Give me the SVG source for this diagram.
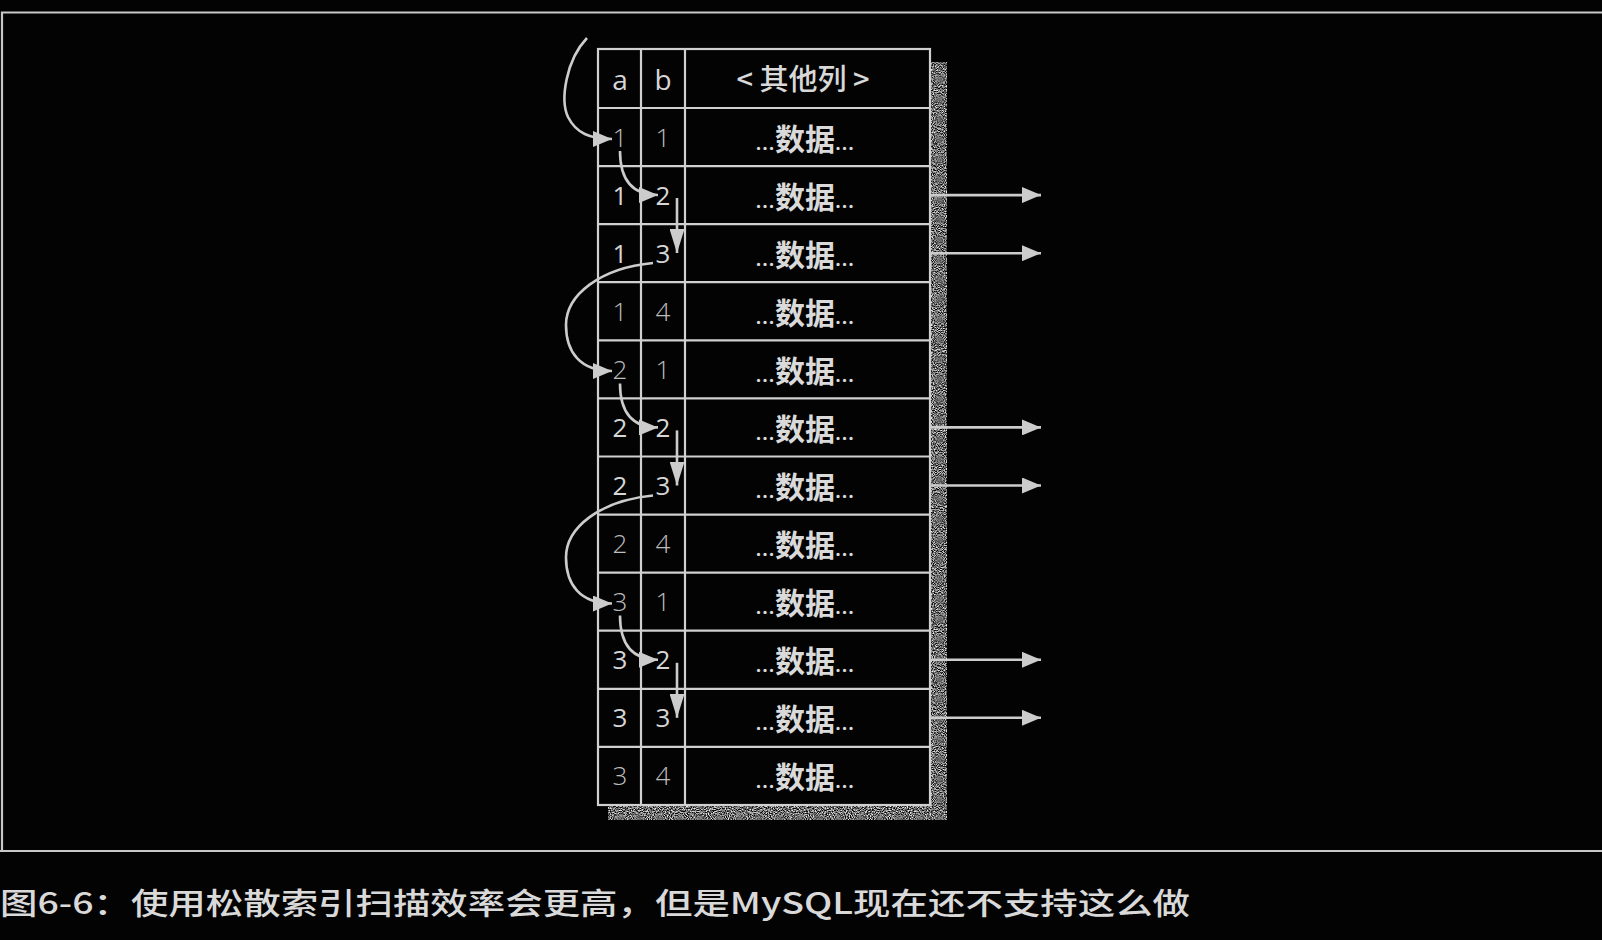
<svg xmlns="http://www.w3.org/2000/svg" width="1602" height="940" viewBox="0 0 1602 940">
<style>
.frame{stroke:#c8c8c8;stroke-width:2.2;fill:none}
.grid{stroke:#d0d0d0;stroke-width:2.2;fill:none}
.hd{font-family:"Open Sans","Noto Sans CJK SC",sans-serif;font-size:28px;fill:#d6d6d6;text-anchor:middle}
.hc{font-family:"Noto Sans CJK SC",sans-serif;font-size:29px;font-weight:500;fill:#d8d8d8;text-anchor:middle}
.dg{font-family:"Open Sans","Noto Sans CJK SC",sans-serif;font-size:26px;fill:#d6d6d6;text-anchor:middle}
.dl{font-weight:300;fill:#bdbdbd}
.dt{font-family:"Open Sans","Noto Sans CJK SC",sans-serif;fill:#dadada;text-anchor:middle}
.dots{font-size:22px;font-weight:600;letter-spacing:0.5px}
.cj{font-family:"Noto Sans CJK SC",sans-serif;font-size:30px;font-weight:700}
.cap{font-family:"Noto Sans CJK SC",sans-serif;font-size:30px;font-weight:500;fill:#d9d9d9}
.arr{stroke:#cccccc;stroke-width:2.6;fill:none}
</style>
<defs>
<marker id="ah" markerUnits="userSpaceOnUse" markerWidth="19" markerHeight="16" refX="19" refY="8" orient="auto"><path d="M0,0 L19,8 L0,16 z" fill="#cccccc"/></marker>
<marker id="ahd" markerUnits="userSpaceOnUse" markerWidth="24" markerHeight="15" refX="24" refY="7.5" orient="auto"><path d="M0,0 L24,7.5 L0,15 z" fill="#cccccc"/></marker>
<filter id="noise" x="0" y="0" width="100%" height="100%">
<feTurbulence type="fractalNoise" baseFrequency="0.95" numOctaves="1" seed="7" result="t"/>
<feColorMatrix in="t" type="matrix" values="0 0 0 0 0.82  0 0 0 0 0.82  0 0 0 0 0.82  2.6 0 0 0 -0.85"/>
<feComposite in2="SourceGraphic" operator="in"/>
</filter>
</defs>
<rect x="0" y="0" width="1602" height="940" fill="#030303"/>
<g id="frame">
<path class="frame" d="M2,852 L2,12.5 L1602,12.5"/>
<path class="frame" d="M0,851 L1602,851"/>
</g>
<g id="shadow" filter="url(#noise)">
<rect x="930" y="62" width="17" height="757" fill="#fff"/>
<rect x="608" y="805" width="339" height="15" fill="#fff"/>
</g>
<g id="table">
<rect class="grid" x="598" y="49" width="332" height="756" fill="#030303"/>
<path class="grid" d="M641,49 V805 M685,49 V805 M598,108 H930 M598,166.1 H930 M598,224.2 H930 M598,282.2 H930 M598,340.3 H930 M598,398.4 H930 M598,456.5 H930 M598,514.6 H930 M598,572.6 H930 M598,630.7 H930 M598,688.8 H930 M598,746.9 H930"/>
</g>
<g id="header">
<text class="hd" x="620" y="90">a</text>
<text class="hd" x="663" y="90">b</text>
<text class="hc" x="803" y="90">&lt; 其他列 &gt;</text>
</g>
<g id="row-1"><text class="dg dl" x="620" y="146.5">1</text><text class="dg dl" x="663" y="146.5">1</text><text class="dt" x="805" y="149.5"><tspan class="dots">...</tspan><tspan class="cj">数据</tspan><tspan class="dots">...</tspan></text></g>
<g id="row-2"><text class="dg" x="620" y="204.6">1</text><text class="dg" x="663" y="204.6">2</text><text class="dt" x="805" y="207.6"><tspan class="dots">...</tspan><tspan class="cj">数据</tspan><tspan class="dots">...</tspan></text></g>
<g id="row-3"><text class="dg" x="620" y="262.7">1</text><text class="dg" x="663" y="262.7">3</text><text class="dt" x="805" y="265.7"><tspan class="dots">...</tspan><tspan class="cj">数据</tspan><tspan class="dots">...</tspan></text></g>
<g id="row-4"><text class="dg dl" x="620" y="320.8">1</text><text class="dg dl" x="663" y="320.8">4</text><text class="dt" x="805" y="323.8"><tspan class="dots">...</tspan><tspan class="cj">数据</tspan><tspan class="dots">...</tspan></text></g>
<g id="row-5"><text class="dg dl" x="620" y="378.9">2</text><text class="dg dl" x="663" y="378.9">1</text><text class="dt" x="805" y="381.9"><tspan class="dots">...</tspan><tspan class="cj">数据</tspan><tspan class="dots">...</tspan></text></g>
<g id="row-6"><text class="dg" x="620" y="436.9">2</text><text class="dg" x="663" y="436.9">2</text><text class="dt" x="805" y="439.9"><tspan class="dots">...</tspan><tspan class="cj">数据</tspan><tspan class="dots">...</tspan></text></g>
<g id="row-7"><text class="dg" x="620" y="495">2</text><text class="dg" x="663" y="495">3</text><text class="dt" x="805" y="498"><tspan class="dots">...</tspan><tspan class="cj">数据</tspan><tspan class="dots">...</tspan></text></g>
<g id="row-8"><text class="dg dl" x="620" y="553.1">2</text><text class="dg dl" x="663" y="553.1">4</text><text class="dt" x="805" y="556.1"><tspan class="dots">...</tspan><tspan class="cj">数据</tspan><tspan class="dots">...</tspan></text></g>
<g id="row-9"><text class="dg dl" x="620" y="611.2">3</text><text class="dg dl" x="663" y="611.2">1</text><text class="dt" x="805" y="614.2"><tspan class="dots">...</tspan><tspan class="cj">数据</tspan><tspan class="dots">...</tspan></text></g>
<g id="row-10"><text class="dg" x="620" y="669.3">3</text><text class="dg" x="663" y="669.3">2</text><text class="dt" x="805" y="672.3"><tspan class="dots">...</tspan><tspan class="cj">数据</tspan><tspan class="dots">...</tspan></text></g>
<g id="row-11"><text class="dg" x="620" y="727.3">3</text><text class="dg" x="663" y="727.3">3</text><text class="dt" x="805" y="730.3"><tspan class="dots">...</tspan><tspan class="cj">数据</tspan><tspan class="dots">...</tspan></text></g>
<g id="row-12"><text class="dg dl" x="620" y="785.4">3</text><text class="dg dl" x="663" y="785.4">4</text><text class="dt" x="805" y="788.4"><tspan class="dots">...</tspan><tspan class="cj">数据</tspan><tspan class="dots">...</tspan></text></g>
<g id="connectors">
<path class="arr" marker-end="url(#ah)" d="M587,38 C566,60 560,100 568,117 C576,133 590,139 612,139"/>
<path class="arr" marker-end="url(#ah)" d="M620,151 C620,177 630,195 658,195"/>
<path class="arr" marker-end="url(#ahd)" d="M677,198 L677,253"/>
<path class="arr" marker-end="url(#ah)" d="M653,263 C600,268 566,295 566,325 C566,352 580,371 612,371"/>
<path class="arr" marker-end="url(#ah)" d="M620,383.4 C620,409.4 630,427.4 658,427.4"/>
<path class="arr" marker-end="url(#ahd)" d="M677,430.4 L677,485.5"/>
<path class="arr" marker-end="url(#ah)" d="M653,495.5 C600,500.5 566,527.5 566,557.5 C566,584.5 580,603.5 612,603.5"/>
<path class="arr" marker-end="url(#ah)" d="M620,615.6 C620,641.6 630,659.8 658,659.8"/>
<path class="arr" marker-end="url(#ahd)" d="M677,662.8 L677,717.8"/>
<path class="arr" marker-end="url(#ah)" d="M930,195.1 H1041"/>
<path class="arr" marker-end="url(#ah)" d="M930,253.2 H1041"/>
<path class="arr" marker-end="url(#ah)" d="M930,427.4 H1041"/>
<path class="arr" marker-end="url(#ah)" d="M930,485.5 H1041"/>
<path class="arr" marker-end="url(#ah)" d="M930,659.8 H1041"/>
<path class="arr" marker-end="url(#ah)" d="M930,717.8 H1041"/>
</g>
<g id="caption">
<text class="cap" x="0" y="914" textLength="1190" lengthAdjust="spacingAndGlyphs">图6-6：使用松散索引扫描效率会更高，但是MySQL现在还不支持这么做</text>
</g>
</svg>
